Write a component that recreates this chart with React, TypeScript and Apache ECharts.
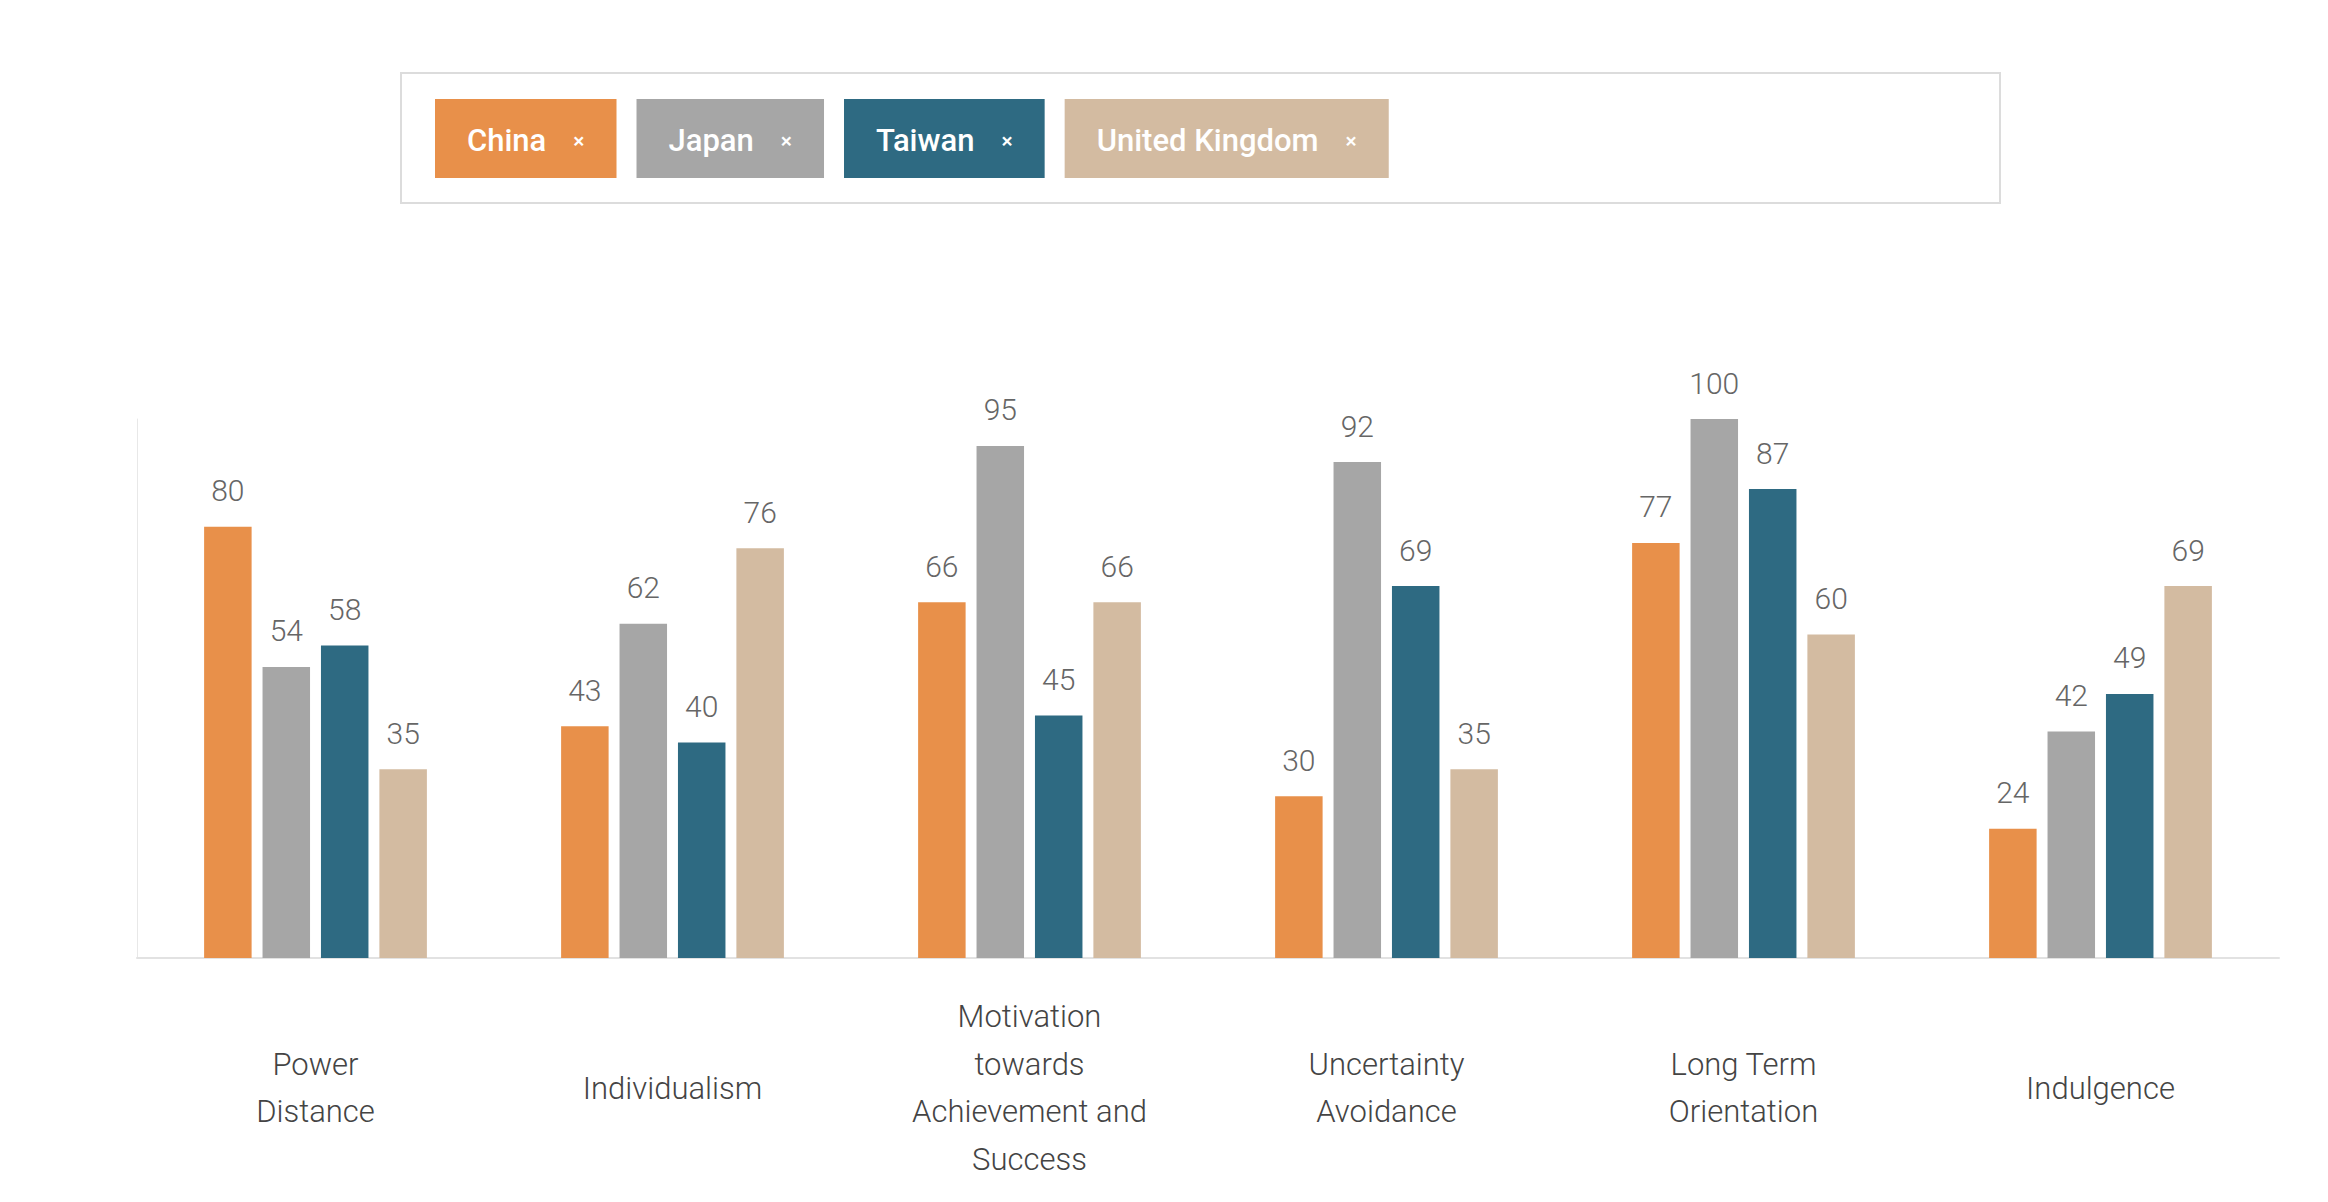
import React, { useEffect, useRef } from "react";
import * as echarts from "echarts";

const categories = [
  "Power\nDistance",
  "Individualism",
  "Motivation\ntowards\nAchievement and\nSuccess",
  "Uncertainty\nAvoidance",
  "Long Term\nOrientation",
  "Indulgence",
];
const seriesNames = ["China", "Japan", "Taiwan", "United Kingdom"];
const chinaValues = [80, 43, 66, 30, 77, 24];
const japanValues = [54, 62, 95, 92, 100, 42];
const taiwanValues = [58, 40, 45, 69, 87, 49];
const ukValues = [35, 76, 66, 35, 60, 69];
const seriesValues = [chinaValues, japanValues, taiwanValues, ukValues];
const colors = ["#E8904A", "#A6A6A6", "#2E6A82", "#D3BBA1"];

const FONT = "Roboto, 'Noto Sans', sans-serif";

export default function App() {
  const ref = useRef<HTMLDivElement>(null);
  useEffect(() => {
    if (!ref.current) return;
    const chart = echarts.init(ref.current, undefined, { renderer: "svg" });
    chart.setOption({
      animation: false,
      backgroundColor: "#ffffff",
      textStyle: { fontFamily: FONT },
      graphic: [
        {
          type: "rect",
          shape: { x: 401, y: 73, width: 1599, height: 130 },
          style: { fill: "none", stroke: "#dcdcdc", lineWidth: 2 },
          silent: true,
        },
      ],
      legend: {
        left: 430,
        top: 99,
        padding: 0,
        itemGap: 15,
        itemWidth: 0,
        itemHeight: 0,
        icon: "none",
        selectedMode: true,
        formatter: (name: string) => `{n|${name}}{x|×}`,
        data: seriesNames.map((name, i) => ({
          name,
          textStyle: {
            backgroundColor: colors[i],
            padding: [26, 32, 22, 32],
            color: "#ffffff",
            rich: {
              n: {
                fontSize: 31,
                fontWeight: 500,
                color: "#ffffff",
                fontFamily: FONT,
                lineHeight: 31,
              },
              x: {
                fontSize: 21,
                fontWeight: 500,
                color: "#ffffff",
                fontFamily: FONT,
                padding: [0, 0, 0, 27],
                lineHeight: 31,
              },
            },
          },
        })),
      },
      grid: { left: 137, top: 419, width: 2142, height: 539, containLabel: false },
      xAxis: {
        type: "category",
        data: categories,
        axisLine: { show: true, lineStyle: { color: "#e2e2e2", width: 2 } },
        axisTick: { show: false },
        axisLabel: {
          interval: 0,
          margin: 130,
          verticalAlign: "middle",
          lineHeight: 47.5,
          fontSize: 31,
          fontWeight: 300,
          color: "#444444",
          fontFamily: FONT,
        },
      },
      yAxis: {
        type: "value",
        min: 0,
        max: 100,
        axisLine: { show: true, lineStyle: { color: "#e8e8e8", width: 1 } },
        axisTick: { show: false },
        axisLabel: { show: false },
        splitLine: { show: false },
      },
      series: seriesNames.map((name, i) => ({
        name,
        type: "bar",
        data: seriesValues[i],
        barWidth: 47.5,
        barGap: "23%",
        itemStyle: { color: colors[i] },
        label: {
          show: true,
          position: "top",
          distance: 21,
          fontSize: 30,
          fontWeight: 300,
          color: "#666666",
          fontFamily: FONT,
        },
      })),
    });
    return () => chart.dispose();
  }, []);
  return (
    <div
      ref={ref}
      style={{ position: "fixed", left: 0, top: 0, width: 2328, height: 1202 }}
    />
  );
}
